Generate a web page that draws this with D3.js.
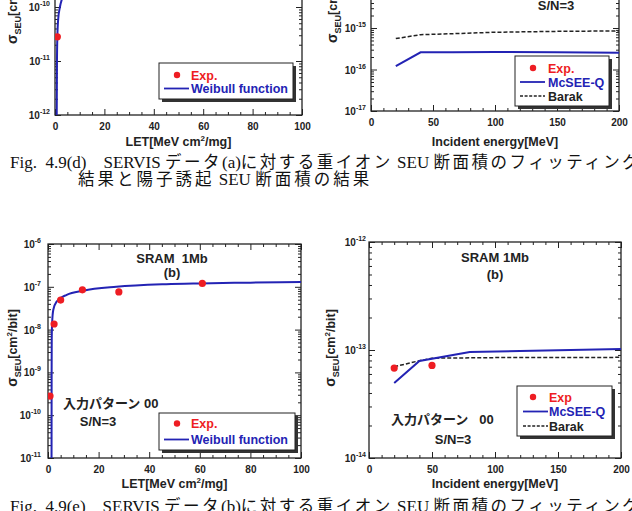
<!DOCTYPE html>
<html>
<head>
<meta charset="utf-8">
<script src="https://cdn.jsdelivr.net/npm/d3@7"></script>
<style>
body { margin: 0; background: #fff; }
svg text { font-family: "Liberation Sans", Arial, "Noto Sans CJK JP", sans-serif; font-weight: bold; fill: #222; }
svg text.cap { font-family: "Liberation Serif", "Noto Sans CJK JP", serif; font-weight: normal; fill: #111; }
</style>
</head>
<body>
<svg id="fig" width="632" height="511"></svg>
<script>
// ---- Fig 4.9(d): heavy ion, SERVIS data (a)
var letExpA = [0.95];
var sigExpA = [2.8e-11];
var letFitA = [0.7, 0.8, 0.95, 1.3, 2.0, 2.8];
var sigFitA = [1e-12, 1e-11, 2.8e-11, 6e-11, 1e-10, 1.4e-10];

// ---- Fig 4.9(d): proton induced
var energyA = [20, 40, 66, 100, 150, 200];
var mcseeA = [1.21e-16, 2.6e-16, 2.62e-16, 2.64e-16, 2.62e-16, 2.55e-16];
var barakA = [5.55e-16, 6.9e-16, 7.3e-16, 7.9e-16, 8.3e-16, 8.5e-16];

// ---- Fig 4.9(e): heavy ion, SERVIS data (b)
var letExpB = [0.8, 2.4, 5, 13.6, 28, 61];
var sigExpB = [2.8e-10, 1.35e-8, 4.9e-8, 8.5e-8, 7.6e-8, 1.2e-7];
var letFitB = [1.40, 1.42, 1.44, 1.48, 1.65, 2.1, 3.4, 7.4, 13.9, 27, 46.7, 60, 80, 100];
var sigFitB = [1e-11, 1e-10, 1e-9, 6e-9, 1.5e-8, 2.9e-8, 4.5e-8, 6.5e-8, 8.1e-8, 1.0e-7, 1.15e-7, 1.2e-7, 1.25e-7, 1.29e-7];

// ---- Fig 4.9(e): proton induced
var energyExpB = [20, 50];
var sigProtExpB = [6.8e-14, 7.2e-14];
var energyB = [20, 40, 80, 120, 160, 200];
var mcseeB = [4.95e-14, 7.9e-14, 9.6e-14, 9.8e-14, 1.0e-13, 1.02e-13];
var energyBarakB = [20, 40, 50, 100, 150, 200];
var barakB = [7.0e-14, 7.96e-14, 8.4e-14, 8.5e-14, 8.5e-14, 8.55e-14];

var letTicks = [0, 20, 40, 60, 80, 100];
var energyTicks = [0, 50, 100, 150, 200];

var captionD = ["Fig.  4.9(d)    SERVIS データ(a)に対する重イオン SEU 断面積のフィッティング", "結果と陽子誘起 SEU 断面積の結果"];
var captionE = "Fig.  4.9(e)    SERVIS データ(b)に対する重イオン SEU 断面積のフィッティング";

var red = "#ee1d23", blue = "#2323b4", ink = "#222";
var svg = d3.select("#fig");

// keep runs of spaces visible
function keep(s) { return s.replace(/ /g, "\u00a0"); }

function drawPanel(p) {
    var x = d3.scaleLinear().domain(p.xDomain).range([p.left, p.right]);
    var y = d3.scaleLog().domain(p.yDomain).range([p.bottom, p.top]);
    var g = svg.append("g");

    g.append("clipPath").attr("id", "clip" + p.id)
        .append("rect")
        .attr("x", p.left).attr("y", p.top)
        .attr("width", p.right - p.left).attr("height", p.bottom - p.top);

    var xMinor = d3.range(p.xDomain[0], p.xDomain[1] + 0.001, p.xMinorStep)
        .filter(function(v) { return p.xTicks.indexOf(v) < 0; });
    var yAll = y.ticks();
    var yMajor = yAll.filter(function(v) {
        var l = Math.log10(v);
        return Math.abs(l - Math.round(l)) < 1e-6;
    });
    var yMinor = yAll.filter(function(v) { return yMajor.indexOf(v) < 0; });

    // bottom axis with labels, the other three sides only ticks
    g.append("g").attr("class", "ax").attr("transform", "translate(0," + p.bottom + ")")
        .call(d3.axisBottom(x).tickValues(p.xTicks).tickSizeInner(-6).tickSizeOuter(0).tickPadding(8));
    g.append("g").attr("class", "ax").attr("transform", "translate(0," + p.bottom + ")")
        .call(d3.axisBottom(x).tickValues(xMinor).tickSize(-3).tickFormat(""));
    g.append("g").attr("class", "ax").attr("transform", "translate(0," + p.top + ")")
        .call(d3.axisTop(x).tickValues(p.xTicks).tickSize(-6).tickFormat(""));
    g.append("g").attr("class", "ax").attr("transform", "translate(0," + p.top + ")")
        .call(d3.axisTop(x).tickValues(xMinor).tickSize(-3).tickFormat(""));
    g.append("g").attr("class", "ax").attr("transform", "translate(" + p.left + ",0)")
        .call(d3.axisLeft(y).tickValues(yMajor).tickSize(-6).tickFormat(""));
    g.append("g").attr("class", "ax").attr("transform", "translate(" + p.left + ",0)")
        .call(d3.axisLeft(y).tickValues(yMinor).tickSize(-3).tickFormat(""));
    g.append("g").attr("class", "ax").attr("transform", "translate(" + p.right + ",0)")
        .call(d3.axisRight(y).tickValues(yMajor).tickSize(-6).tickFormat(""));
    g.append("g").attr("class", "ax").attr("transform", "translate(" + p.right + ",0)")
        .call(d3.axisRight(y).tickValues(yMinor).tickSize(-3).tickFormat(""));

    g.selectAll(".ax .domain").remove();
    g.selectAll(".ax line").attr("stroke", ink).attr("stroke-width", 1);
    g.selectAll(".ax text").style("font-size", "10px");

    g.append("rect")
        .attr("x", p.left).attr("y", p.top)
        .attr("width", p.right - p.left).attr("height", p.bottom - p.top)
        .attr("fill", "none").attr("stroke", ink).attr("stroke-width", 1.3);

    // y tick labels 10^n
    yMajor.forEach(function(v) {
        var t = g.append("text")
            .attr("x", p.left - p.labelGap).attr("y", y(v) + 4)
            .attr("text-anchor", "end").style("font-size", "10px");
        t.append("tspan").text("10");
        t.append("tspan").attr("dy", -5).style("font-size", "7px").text(Math.round(Math.log10(v)));
    });

    // series
    p.series.forEach(function(s) {
        var line = d3.line()
            .x(function(d) { return x(d[0]); })
            .y(function(d) { return y(d[1]); })
            .curve(s.smooth ? d3.curveMonotoneX : d3.curveLinear);
        g.append("path")
            .datum(d3.zip(s.xs, s.ys))
            .attr("clip-path", "url(#clip" + p.id + ")")
            .attr("d", line)
            .attr("fill", "none")
            .attr("stroke", s.color)
            .attr("stroke-width", s.width)
            .attr("stroke-dasharray", s.dash || null);
    });

    g.selectAll("circle.pt")
        .data(d3.zip(p.points.xs, p.points.ys))
        .enter()
        .append("circle")
        .attr("class", "pt")
        .attr("clip-path", "url(#clip" + p.id + ")")
        .attr("cx", function(d) { return x(d[0]); })
        .attr("cy", function(d) { return y(d[1]); })
        .attr("r", 3.6)
        .attr("fill", red);

    // axis titles
    var xt = g.append("text")
        .attr("x", (p.left + p.right) / 2).attr("y", p.xTitleY)
        .attr("text-anchor", "middle").style("font-size", "12.5px");
    p.xTitle.forEach(function(part) {
        var ts = xt.append("tspan").text(part[0]);
        if (part[1] == "sup") ts.attr("dy", -5).style("font-size", "8px");
        if (part[1] == "back") ts.attr("dy", 5);
    });

    var yt = g.append("text")
        .attr("transform", "translate(" + p.yTitleX + "," + p.yTitleY + ") rotate(-90)")
        .attr("text-anchor", p.yTitleAnchor)
        .style("font-size", "12.5px");
    yt.append("tspan").style("font-size", "14px").text("σ");
    yt.append("tspan").attr("dy", 4).style("font-size", "9px").text("SEU");
    yt.append("tspan").attr("dy", -4).text("[cm");
    yt.append("tspan").attr("dy", -5).style("font-size", "8px").text("2");
    yt.append("tspan").attr("dy", 5).text("/bit]");

    // inner notes
    p.notes.forEach(function(n) {
        g.append("text")
            .attr("x", n.x).attr("y", n.y)
            .attr("text-anchor", n.anchor || "middle")
            .style("font-size", "13px")
            .text(keep(n.text));
    });

    // legend with drop shadow
    var L = p.legend;
    g.append("rect")
        .attr("x", L.x + 3).attr("y", L.y + 3).attr("width", L.w).attr("height", L.h)
        .attr("fill", "#333");
    g.append("rect")
        .attr("x", L.x).attr("y", L.y).attr("width", L.w).attr("height", L.h)
        .attr("fill", "#fff").attr("stroke", ink).attr("stroke-width", 1);
    L.rows.forEach(function(r, i) {
        var ry = L.y + L.firstRow + i * L.rowH;
        if (r.kind == "dot") {
            g.append("circle").attr("cx", L.dotX).attr("cy", ry).attr("r", 3.2).attr("fill", red);
        } else {
            g.append("line")
                .attr("x1", L.lineX0).attr("x2", L.lineX1).attr("y1", ry).attr("y2", ry)
                .attr("stroke", r.color).attr("stroke-width", r.kind == "dash" ? 1.3 : 1.8)
                .attr("stroke-dasharray", r.kind == "dash" ? "3,1.6" : null);
        }
        g.append("text")
            .attr("x", L.textX).attr("y", ry + 4.5)
            .style("font-size", "12.5px")
            .style("fill", r.textColor)
            .text(r.label);
    });
}

drawPanel({
    id: "dl", left: 55, right: 302, top: -101, bottom: 115,
    xDomain: [0, 100], xTicks: letTicks, xMinorStep: 5,
    yDomain: [1e-12, 1e-8], labelGap: 5,
    series: [{ xs: letFitA, ys: sigFitA, color: blue, width: 2, smooth: true }],
    points: { xs: letExpA, ys: sigExpA },
    xTitle: [["LET[MeV cm"], ["2", "sup"], ["/mg]", "back"]], xTitleY: 146,
    yTitleX: 17, yTitleY: 44, yTitleAnchor: "start",
    notes: [],
    legend: {
        x: 159, y: 63, w: 134, h: 36, firstRow: 12, rowH: 13.5,
        dotX: 177, lineX0: 164, lineX1: 189, textX: 191,
        rows: [
            { kind: "dot", label: "Exp.", textColor: red },
            { kind: "line", color: blue, label: "Weibull function", textColor: blue }
        ]
    }
});

drawPanel({
    id: "dr", left: 371, right: 619, top: -13.5, bottom: 111,
    xDomain: [0, 200], xTicks: energyTicks, xMinorStep: 10,
    yDomain: [1e-17, 1e-14], labelGap: 5,
    series: [
        { xs: energyA, ys: barakA, color: ink, width: 1.5, dash: "4,2" },
        { xs: energyA, ys: mcseeA, color: blue, width: 2 }
    ],
    points: { xs: [], ys: [] },
    xTitle: [["Incident energy[MeV]"]], xTitleY: 146,
    yTitleX: 337, yTitleY: 43, yTitleAnchor: "start",
    notes: [{ x: 556, y: 10, text: "S/N=3" }],
    legend: {
        x: 515, y: 56, w: 94, h: 50, firstRow: 12, rowH: 14,
        dotX: 533, lineX0: 520, lineX1: 545, textX: 548,
        rows: [
            { kind: "dot", label: "Exp.", textColor: red },
            { kind: "line", color: blue, label: "McSEE-Q", textColor: blue },
            { kind: "dash", color: ink, label: "Barak", textColor: ink }
        ]
    }
});

drawPanel({
    id: "el", left: 48, right: 301, top: 244, bottom: 458,
    xDomain: [0, 100], xTicks: letTicks, xMinorStep: 5,
    yDomain: [1e-11, 1e-6], labelGap: 7,
    series: [{ xs: letFitB, ys: sigFitB, color: blue, width: 2, smooth: true }],
    points: { xs: letExpB, ys: sigExpB },
    xTitle: [["LET[MeV cm"], ["2", "sup"], ["/mg]", "back"]], xTitleY: 488,
    yTitleX: 17, yTitleY: 348, yTitleAnchor: "middle",
    notes: [
        { x: 172, y: 263, text: "SRAM  1Mb" },
        { x: 172, y: 277, text: "(b)" },
        { x: 63, y: 408, text: "入力パターン 00", anchor: "start" },
        { x: 98, y: 426, text: "S/N=3" }
    ],
    legend: {
        x: 159, y: 413, w: 136, h: 37, firstRow: 10.5, rowH: 16,
        dotX: 177, lineX0: 164, lineX1: 189, textX: 191,
        rows: [
            { kind: "dot", label: "Exp.", textColor: red },
            { kind: "line", color: blue, label: "Weibull function", textColor: blue }
        ]
    }
});

drawPanel({
    id: "er", left: 369, right: 621, top: 242, bottom: 458,
    xDomain: [0, 200], xTicks: energyTicks, xMinorStep: 10,
    yDomain: [1e-14, 1e-12], labelGap: 3,
    series: [
        { xs: energyBarakB, ys: barakB, color: ink, width: 1.5, dash: "4,2" },
        { xs: energyB, ys: mcseeB, color: blue, width: 2 }
    ],
    points: { xs: energyExpB, ys: sigProtExpB },
    xTitle: [["Incident energy[MeV]"]], xTitleY: 488,
    yTitleX: 335, yTitleY: 348, yTitleAnchor: "middle",
    notes: [
        { x: 495, y: 262, text: "SRAM 1Mb" },
        { x: 495, y: 279, text: "(b)" },
        { x: 391, y: 424, text: "入力パターン   00", anchor: "start" },
        { x: 453, y: 444, text: "S/N=3" }
    ],
    legend: {
        x: 517, y: 386, w: 95, h: 50, firstRow: 11, rowH: 14.5,
        dotX: 533, lineX0: 523, lineX1: 548, textX: 549,
        rows: [
            { kind: "dot", label: "Exp", textColor: red },
            { kind: "line", color: blue, label: "McSEE-Q", textColor: blue },
            { kind: "dash", color: ink, label: "Barak", textColor: ink }
        ]
    }
});

// captions: CJK runs spaced out, like the document's character grid
function caption(str, x, yPos, spacing) {
    var t = svg.append("text").attr("class", "cap").attr("x", x).attr("y", yPos).style("font-size", "17px");
    var runs = str.match(/[\u3000-\u30ff\u4e00-\u9fff\uff00-\uffef]+|[^\u3000-\u30ff\u4e00-\u9fff\uff00-\uffef]+/g);
    runs.forEach(function(r) {
        var ts = t.append("tspan").text(keep(r));
        if (/[\u3000-\u30ff\u4e00-\u9fff]/.test(r)) {
            ts.style("font-size", "16.5px").style("letter-spacing", spacing + "px");
        }
    });
}
caption(captionD[0], 10, 168, 2.5);
caption(captionD[1], 78, 185, 3);
caption(captionE, 10, 512, 2.5);
</script>
</body>
</html>
